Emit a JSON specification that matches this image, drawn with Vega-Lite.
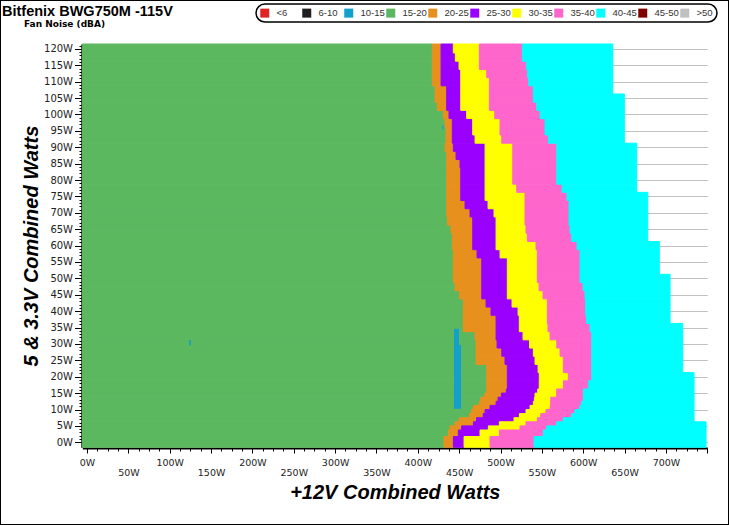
{
  "$schema": "https://vega.github.io/schema/vega-lite/v6.json",
  "width": 729,
  "height": 525,
  "autosize": "none",
  "padding": 0,
  "background": "white",
  "config": {
    "view": {"stroke": "black", "strokeWidth": 2, "fill": "white"},
    "legend": {"strokeWidth": 1.5},
    "title": {"subtitleFont": "DejaVu Sans", "subtitleFontSize": 9, "subtitleFontWeight": "bold", "subtitleColor": "black"}
  },
  "title": {
    "text": "Bitfenix BWG750M -115V",
    "subtitle": "\u200b\u00a0\u00a0\u00a0\u00a0\u00a0\u00a0\u00a0Fan Noise (dBA)",
    "anchor": "start",
    "frame": "group",
    "orient": "top",
    "offset": -30,
    "dx": 2,
    "font": "Liberation Sans",
    "fontSize": 14.5,
    "fontWeight": "bold",
    "color": "black",
    "subtitleFont": "DejaVu Sans",
    "subtitleFontSize": 9,
    "subtitleFontWeight": "bold",
    "subtitleColor": "black",
    "subtitlePadding": 1
  },
  "datasets": {
    "bands": [
      {"lo":118.75,"hi":121.5,"s":-5.7,"g":417.5,"o":428.1,"p":442.9,"yl":474.4,"k":526.4,"c":635.7},
      {"lo":116.25,"hi":118.75,"s":-5.7,"g":417.5,"o":428.1,"p":445.4,"yl":474.4,"k":526.4,"c":635.7},
      {"lo":113.75,"hi":116.25,"s":-5.7,"g":417.5,"o":428.1,"p":449.8,"yl":474.4,"k":531.2,"c":635.7},
      {"lo":111.25,"hi":113.75,"s":-5.7,"g":417.5,"o":428.1,"p":451.9,"yl":483.3,"k":532.9,"c":635.7},
      {"lo":108.75,"hi":111.25,"s":-5.7,"g":417.5,"o":428.1,"p":451.9,"yl":486.5,"k":534.1,"c":635.7},
      {"lo":106.25,"hi":108.75,"s":-5.7,"g":420.8,"o":434.9,"p":451.9,"yl":486.5,"k":539.7,"c":635.7},
      {"lo":103.75,"hi":106.25,"s":-5.7,"g":420.8,"o":434.9,"p":451.9,"yl":486.5,"k":539.7,"c":649.7},
      {"lo":101.25,"hi":103.75,"s":-5.7,"g":423.6,"o":434.9,"p":451.9,"yl":486.5,"k":543.8,"c":649.7},
      {"lo":98.75,"hi":101.25,"s":-5.7,"g":430.8,"o":437.7,"p":459.1,"yl":493.0,"k":547.8,"c":649.7},
      {"lo":96.25,"hi":98.75,"s":-5.7,"g":432.9,"o":441.7,"p":466.4,"yl":499.4,"k":553.8,"c":649.7},
      {"lo":93.75,"hi":96.25,"s":-5.7,"g":434.1,"o":441.7,"p":466.4,"yl":499.4,"k":553.8,"c":649.7},
      {"lo":91.25,"hi":93.75,"s":-5.7,"g":434.1,"o":441.7,"p":469.2,"yl":501.5,"k":557.8,"c":649.7},
      {"lo":88.75,"hi":91.25,"s":-5.7,"g":433.0,"o":442.9,"p":481.3,"yl":514.8,"k":568.0,"c":664.7},
      {"lo":86.25,"hi":88.75,"s":-5.7,"g":434.9,"o":446.2,"p":481.3,"yl":514.8,"k":568.0,"c":664.7},
      {"lo":83.75,"hi":86.25,"s":-5.7,"g":434.9,"o":451.0,"p":481.3,"yl":514.8,"k":568.0,"c":664.7},
      {"lo":81.25,"hi":83.75,"s":-5.7,"g":434.9,"o":451.9,"p":481.3,"yl":514.8,"k":568.0,"c":664.7},
      {"lo":78.75,"hi":81.25,"s":-5.7,"g":434.9,"o":451.9,"p":481.3,"yl":514.8,"k":568.0,"c":664.7},
      {"lo":76.25,"hi":78.75,"s":-5.7,"g":434.9,"o":451.9,"p":481.3,"yl":519.6,"k":574.4,"c":664.7},
      {"lo":73.75,"hi":76.25,"s":-5.7,"g":434.9,"o":451.9,"p":481.3,"yl":529.6,"k":580.4,"c":678.0},
      {"lo":71.25,"hi":73.75,"s":-5.7,"g":434.9,"o":457.1,"p":484.9,"yl":529.6,"k":582.8,"c":678.0},
      {"lo":68.75,"hi":71.25,"s":-5.7,"g":434.9,"o":463.1,"p":492.1,"yl":529.6,"k":582.8,"c":678.0},
      {"lo":66.25,"hi":68.75,"s":-5.7,"g":435.9,"o":466.4,"p":494.6,"yl":529.6,"k":582.8,"c":678.0},
      {"lo":63.75,"hi":66.25,"s":-5.7,"g":440.1,"o":466.4,"p":494.6,"yl":530.8,"k":584.0,"c":678.0},
      {"lo":61.25,"hi":63.75,"s":-5.7,"g":441.7,"o":466.4,"p":494.6,"yl":532.4,"k":586.1,"c":678.0},
      {"lo":58.75,"hi":61.25,"s":-5.7,"g":441.7,"o":466.4,"p":494.6,"yl":542.9,"k":592.5,"c":692.0},
      {"lo":56.25,"hi":58.75,"s":-5.7,"g":442.9,"o":471.6,"p":499.4,"yl":544.5,"k":596.1,"c":692.0},
      {"lo":53.75,"hi":56.25,"s":-5.7,"g":442.9,"o":477.3,"p":508.2,"yl":544.5,"k":596.1,"c":692.0},
      {"lo":51.25,"hi":53.75,"s":-5.7,"g":442.9,"o":477.3,"p":508.2,"yl":544.5,"k":596.1,"c":692.0},
      {"lo":48.75,"hi":51.25,"s":-5.7,"g":442.9,"o":477.3,"p":508.2,"yl":544.5,"k":596.1,"c":705.0},
      {"lo":46.25,"hi":48.75,"s":-5.7,"g":445.0,"o":477.3,"p":508.2,"yl":546.6,"k":599.8,"c":705.0},
      {"lo":43.75,"hi":46.25,"s":-5.7,"g":450.4,"o":477.3,"p":508.2,"yl":551.4,"k":602.2,"c":705.0},
      {"lo":41.25,"hi":43.75,"s":-5.7,"g":455.0,"o":482.5,"p":513.9,"yl":556.6,"k":603.0,"c":705.0},
      {"lo":38.75,"hi":41.25,"s":-5.7,"g":455.0,"o":488.5,"p":521.2,"yl":556.6,"k":603.0,"c":705.0},
      {"lo":36.25,"hi":38.75,"s":-5.7,"g":455.0,"o":494.6,"p":522.7,"yl":556.6,"k":604.0,"c":705.0},
      {"lo":33.75,"hi":36.25,"s":-5.7,"g":455.0,"o":494.6,"p":522.7,"yl":557.4,"k":608.2,"c":720.3},
      {"lo":31.25,"hi":33.75,"s":-5.7,"g":469.2,"o":494.6,"p":527.2,"yl":559.9,"k":610.3,"c":720.3},
      {"lo":28.75,"hi":31.25,"s":-5.7,"g":470.4,"o":495.8,"p":535.0,"yl":568.0,"k":610.3,"c":720.3},
      {"lo":26.25,"hi":28.75,"s":-5.7,"g":470.4,"o":501.5,"p":539.7,"yl":572.0,"k":610.3,"c":720.3},
      {"lo":23.75,"hi":26.25,"s":-5.7,"g":470.4,"o":505.4,"p":541.7,"yl":575.9,"k":610.3,"c":720.3},
      {"lo":21.25,"hi":23.75,"s":-5.7,"g":483.3,"o":508.2,"p":545.4,"yl":575.9,"k":610.3,"c":720.3},
      {"lo":18.75,"hi":21.25,"s":-5.7,"g":483.3,"o":508.2,"p":546.9,"yl":582.0,"k":610.3,"c":734.0},
      {"lo":16.25,"hi":18.75,"s":-5.7,"g":483.3,"o":508.3,"p":546.8,"yl":576.0,"k":606.2,"c":734.0},
      {"lo":15,"hi":16.25,"s":-5.7,"g":483.3,"o":507.0,"p":545.0,"yl":567.9,"k":600.2,"c":734.0},
      {"lo":13.75,"hi":15,"s":-5.7,"g":481.0,"o":501.0,"p":541.7,"yl":567.9,"k":600.2,"c":734.0},
      {"lo":12.5,"hi":13.75,"s":-5.7,"g":476.0,"o":497.0,"p":541.0,"yl":560.7,"k":600.2,"c":734.0},
      {"lo":11.25,"hi":12.5,"s":-5.7,"g":474.4,"o":494.6,"p":539.7,"yl":560.7,"k":598.0,"c":734.0},
      {"lo":10,"hi":11.25,"s":-5.7,"g":467.2,"o":487.3,"p":535.7,"yl":560.0,"k":596.0,"c":734.0},
      {"lo":8.75,"hi":10,"s":-5.7,"g":465.0,"o":481.3,"p":530.8,"yl":555.0,"k":590.0,"c":734.0},
      {"lo":7.5,"hi":8.75,"s":-5.7,"g":462.3,"o":479.0,"p":522.8,"yl":548.6,"k":586.1,"c":734.0},
      {"lo":6.25,"hi":7.5,"s":-5.7,"g":450.2,"o":471.0,"p":516.3,"yl":544.5,"k":576.0,"c":734.0},
      {"lo":5,"hi":6.25,"s":-5.7,"g":445.0,"o":467.2,"p":498.6,"yl":530.8,"k":567.9,"c":748.5},
      {"lo":3.75,"hi":5,"s":-5.7,"g":438.9,"o":453.0,"p":485.3,"yl":523.6,"k":555.8,"c":748.5},
      {"lo":1.75,"hi":3.75,"s":-5.7,"g":436.9,"o":449.0,"p":475.2,"yl":498.6,"k":551.8,"c":748.5},
      {"lo":-1.5,"hi":1.75,"s":-5.7,"g":431.7,"o":443.0,"p":455.9,"yl":487.3,"k":540.5,"c":748.5}
    ],
    "blue": [
      {"x0":443.8,"x1":449.8,"y0":29.7,"y1":34.6},
      {"x0":443.8,"x1":452.2,"y0":10.2,"y1":29.7},
      {"x0":123.5,"x1":125.5,"y0":29.5,"y1":31.2},
      {"x0":429.5,"x1":431.0,"y0":95.4,"y1":96.6}
    ]
  },
  "layer": [
    {
      "data": {"name": "bands"},
      "mark": {"type": "rect", "stroke": "#5cb85f", "strokeWidth": 1},
      "encoding": {
        "x": {
          "field": "s", "type": "quantitative",
          "scale": {"domain": [-5.7, 750], "range": [82.3, 707.3], "nice": false, "zero": false},
          "axis": {
            "title": "+12V Combined Watts",
            "titleFont": "Liberation Sans", "titleFontSize": 20, "titleFontWeight": "bold", "titleFontStyle": "italic", "titleColor": "black",
            "titleY": 50, "titleBaseline": "alphabetic",
            "offset": -77,
            "tickCount": 100,
            "values": [0,12.5,25,37.5,50,62.5,75,87.5,100,112.5,125,137.5,150,162.5,175,187.5,200,212.5,225,237.5,250,262.5,275,287.5,300,312.5,325,337.5,350,362.5,375,387.5,400,412.5,425,437.5,450,462.5,475,487.5,500,512.5,525,537.5,550,562.5,575,587.5,600,612.5,625,637.5,650,662.5,675,687.5,700,712.5,725,737.5,750],
            "labelExpr": "datum.value % 50 === 0 && datum.value <= 700 ? datum.value + 'W' : ''",
            "labelFont": "DejaVu Sans", "labelFontSize": 9.5, "labelColor": "#222",
            "labelOverlap": false, "labelBound": false, "labelFlush": false,
            "labelPadding": {"condition": {"test": "datum.value % 100 === 0", "value": 4}, "value": 14},
            "tickSize": {"condition": {"test": "datum.value % 50 === 0", "value": 5}, "value": 3},
            "tickColor": "black", "tickWidth": 1,
            "domainColor": "black", "domainWidth": 2,
            "grid": false
          }
        },
        "x2": {"field": "g"},
        "y": {
          "field": "lo", "type": "quantitative",
          "scale": {"domain": [-1.5, 121.5], "range": [447.2, 44], "nice": false, "zero": false},
          "axis": {
            "title": "5 & 3.3V Combined Watts",
            "titleFont": "Liberation Sans", "titleFontSize": 20, "titleFontWeight": "bold", "titleFontStyle": "italic", "titleColor": "black",
            "titleAngle": 270, "titleX": -44, "titleBaseline": "alphabetic",
            "offset": -81.5,
            "tickCount": 200,
            "values": [0,1,2,3,4,5,6,7,8,9,10,11,12,13,14,15,16,17,18,19,20,21,22,23,24,25,26,27,28,29,30,31,32,33,34,35,36,37,38,39,40,41,42,43,44,45,46,47,48,49,50,51,52,53,54,55,56,57,58,59,60,61,62,63,64,65,66,67,68,69,70,71,72,73,74,75,76,77,78,79,80,81,82,83,84,85,86,87,88,89,90,91,92,93,94,95,96,97,98,99,100,101,102,103,104,105,106,107,108,109,110,111,112,113,114,115,116,117,118,119,120,121],
            "labelExpr": "datum.value % 5 === 0 ? datum.value + 'W' : ''",
            "labelFont": "DejaVu Sans", "labelFontSize": 10, "labelColor": "#222",
            "labelOverlap": false, "labelBound": false, "labelFlush": false,
            "labelPadding": 2,
            "tickSize": {"condition": {"test": "datum.value % 5 === 0", "value": 7}, "value": 2.5},
            "tickColor": "black", "tickWidth": 1,
            "domainColor": "black", "domainWidth": 1.5,
            "grid": true, "gridColor": "#c0c0c0", "gridWidth": 1,
            "gridOpacity": {"condition": {"test": "datum.value % 5 === 0", "value": 1}, "value": 0}
          }
        },
        "y2": {"field": "hi"},
        "color": {
          "datum": "15-20", "type": "nominal",
          "scale": {
            "domain": ["<6", "6-10", "10-15", "15-20", "20-25", "25-30", "30-35", "35-40", "40-45", "45-50", ">50"],
            "range": ["#e02424", "#1e1e1e", "#12a0cc", "#5cb85f", "#e8901e", "#9900ff", "#ffff00", "#ff66cc", "#00ffff", "#800000", "#c0c0c0"]
          },
          "legend": {
            "title": null, "orient": "none", "legendX": 256, "legendY": 4,
            "direction": "horizontal", "columns": 11, "gridAlign": "all",
            "symbolType": "square", "symbolSize": 81, "symbolStrokeWidth": 0, "symbolOpacity": 1,
            "labelFont": "Liberation Sans", "labelFontSize": 9.5, "labelColor": "#333",
            "labelOffset": 7, "columnPadding": 1, "padding": 4,
            "strokeColor": "black", "cornerRadius": 9, "fillColor": "white"
          }
        }
      }
    },
    {
      "data": {"name": "bands"},
      "mark": {"type": "rect", "stroke": "#e8901e", "strokeWidth": 1},
      "encoding": {
        "x": {"field": "g", "type": "quantitative"}, "x2": {"field": "o"},
        "y": {"field": "lo", "type": "quantitative"}, "y2": {"field": "hi"},
        "color": {"datum": "20-25", "type": "nominal"}
      }
    },
    {
      "data": {"name": "bands"},
      "mark": {"type": "rect", "stroke": "#9900ff", "strokeWidth": 1},
      "encoding": {
        "x": {"field": "o", "type": "quantitative"}, "x2": {"field": "p"},
        "y": {"field": "lo", "type": "quantitative"}, "y2": {"field": "hi"},
        "color": {"datum": "25-30", "type": "nominal"}
      }
    },
    {
      "data": {"name": "bands"},
      "mark": {"type": "rect", "stroke": "#ffff00", "strokeWidth": 1},
      "encoding": {
        "x": {"field": "p", "type": "quantitative"}, "x2": {"field": "yl"},
        "y": {"field": "lo", "type": "quantitative"}, "y2": {"field": "hi"},
        "color": {"datum": "30-35", "type": "nominal"}
      }
    },
    {
      "data": {"name": "bands"},
      "mark": {"type": "rect", "stroke": "#ff66cc", "strokeWidth": 1},
      "encoding": {
        "x": {"field": "yl", "type": "quantitative"}, "x2": {"field": "k"},
        "y": {"field": "lo", "type": "quantitative"}, "y2": {"field": "hi"},
        "color": {"datum": "35-40", "type": "nominal"}
      }
    },
    {
      "data": {"name": "bands"},
      "mark": {"type": "rect", "stroke": "#00ffff", "strokeWidth": 1},
      "encoding": {
        "x": {"field": "k", "type": "quantitative"}, "x2": {"field": "c"},
        "y": {"field": "lo", "type": "quantitative"}, "y2": {"field": "hi"},
        "color": {"datum": "40-45", "type": "nominal"}
      }
    },
    {
      "data": {"name": "blue"},
      "mark": {"type": "rect"},
      "encoding": {
        "x": {"field": "x0", "type": "quantitative"}, "x2": {"field": "x1"},
        "y": {"field": "y0", "type": "quantitative"}, "y2": {"field": "y1"},
        "color": {"datum": "10-15", "type": "nominal"}
      }
    }
  ]
}
